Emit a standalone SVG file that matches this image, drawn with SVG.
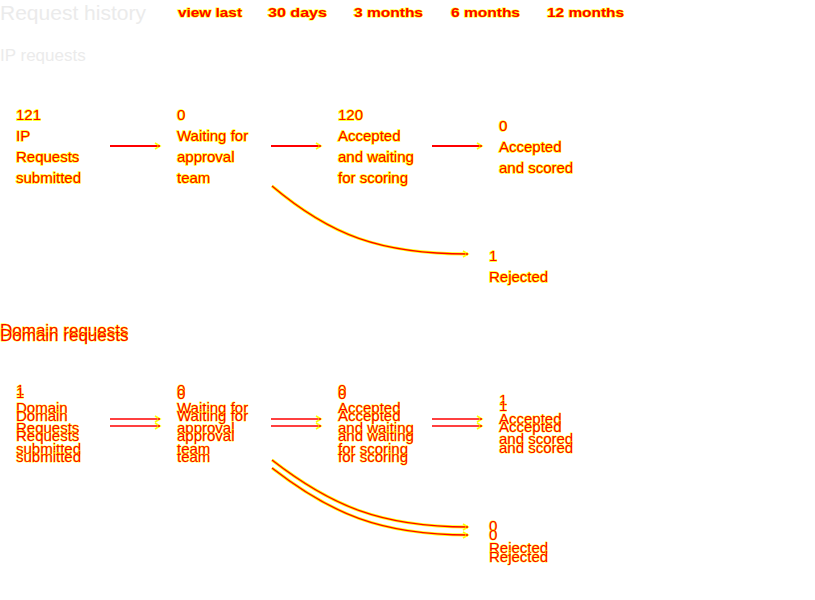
<svg xmlns="http://www.w3.org/2000/svg" width="815" height="600" viewBox="0 0 815 600">
<style>
.t{font-family:"Liberation Sans",Arial,sans-serif;font-size:15px;fill:#ff0000;stroke:#ffff00;stroke-width:1.4;paint-order:stroke}
.d{font-family:"Liberation Sans",Arial,sans-serif;font-size:15px;fill:#ff0000;stroke:#ffff00;stroke-width:0.8;paint-order:stroke}
.tab{font-family:"Liberation Sans",Arial,sans-serif;font-size:12px;font-weight:bold;fill:#ff0000;stroke:#ffff00;stroke-width:1.2;paint-order:stroke}
.h1{font-family:"Liberation Sans",Arial,sans-serif;font-size:21px;fill:#ebebeb}
.h2{font-family:"Liberation Sans",Arial,sans-serif;font-size:17px;fill:#ebebeb}
.h3{font-family:"Liberation Sans",Arial,sans-serif;font-size:17px;fill:#ff0000;stroke:#ffff00;stroke-width:0.8;paint-order:stroke}
.ln{stroke:#ff0000;stroke-width:2;fill:none}
.lnd{stroke:#ff0000;stroke-width:1.5;fill:none}
.cy{stroke:#ffff00;stroke-width:3;fill:none}
.cr{stroke:#ff0000;stroke-width:1.3;fill:none}
</style>
<defs>
<marker id="ah" markerWidth="8" markerHeight="8" refX="6" refY="4" orient="auto" markerUnits="userSpaceOnUse">
<path d="M1,1 L6,4 L1,7" fill="none" stroke="#ffff00" stroke-width="1.6"/>
<circle cx="5" cy="4" r="1" fill="#ff0000"/>
</marker>
</defs>
<g id="header">
<text class="h1" x="0" y="20">Request history</text>
<text class="tab" x="178" y="17" textLength="64" lengthAdjust="spacingAndGlyphs">view last</text>
<text class="tab" x="268" y="17" textLength="59" lengthAdjust="spacingAndGlyphs">30 days</text>
<text class="tab" x="354" y="17" textLength="69" lengthAdjust="spacingAndGlyphs">3 months</text>
<text class="tab" x="451" y="17" textLength="69" lengthAdjust="spacingAndGlyphs">6 months</text>
<text class="tab" x="547" y="17" textLength="77" lengthAdjust="spacingAndGlyphs">12 months</text>
<text class="h2" x="0" y="61">IP requests</text>
</g>
<g id="connectors">
<line class="ln" x1="110" y1="146" x2="160" y2="146" marker-end="url(#ah)"/>
<line class="ln" x1="271" y1="146" x2="321" y2="146" marker-end="url(#ah)"/>
<line class="ln" x1="432" y1="146" x2="482" y2="146" marker-end="url(#ah)"/>
<path class="cy" d="M272,186 C330,235 380,254 468,254"/>
<path class="cr" d="M272,186 C330,235 380,254 468,254" marker-end="url(#ah)"/>
<line class="lnd" x1="110" y1="419" x2="160" y2="419" marker-end="url(#ah)"/>
<line class="lnd" x1="110" y1="426" x2="160" y2="426" marker-end="url(#ah)"/>
<line class="lnd" x1="271" y1="419" x2="321" y2="419" marker-end="url(#ah)"/>
<line class="lnd" x1="271" y1="426" x2="321" y2="426" marker-end="url(#ah)"/>
<line class="lnd" x1="432" y1="419" x2="482" y2="419" marker-end="url(#ah)"/>
<line class="lnd" x1="432" y1="426" x2="482" y2="426" marker-end="url(#ah)"/>
<path class="cy" stroke-width="2.2" d="M272,460 C330,505 380,527 468,527"/>
<path class="cr" stroke-width="0.8" d="M272,460 C330,505 380,527 468,527" marker-end="url(#ah)"/>
<path class="cy" stroke-width="2.2" d="M272,468 C330,513 380,535 468,535"/>
<path class="cr" stroke-width="0.8" d="M272,468 C330,513 380,535 468,535" marker-end="url(#ah)"/>
</g>
<g id="ip-submitted">
<text class="t" x="16" y="120">121</text>
<text class="t" x="16" y="141">IP</text>
<text class="t" x="16" y="162">Requests</text>
<text class="t" x="16" y="183">submitted</text>
</g>
<g id="ip-waiting">
<text class="t" x="177" y="120">0</text>
<text class="t" x="177" y="141">Waiting for</text>
<text class="t" x="177" y="162">approval</text>
<text class="t" x="177" y="183">team</text>
</g>
<g id="ip-accepted-waiting">
<text class="t" x="338" y="120">120</text>
<text class="t" x="338" y="141">Accepted</text>
<text class="t" x="338" y="162">and waiting</text>
<text class="t" x="338" y="183">for scoring</text>
</g>
<g id="ip-accepted-scored">
<text class="t" x="499" y="131">0</text>
<text class="t" x="499" y="152">Accepted</text>
<text class="t" x="499" y="173">and scored</text>
</g>
<g id="ip-rejected">
<text class="t" x="489" y="261">1</text>
<text class="t" x="489" y="282">Rejected</text>
</g>
<g id="domain-header">
<text class="h3" x="0" y="336">Domain requests</text>
<text class="h3" x="0" y="341">Domain requests</text>
</g>
<g id="domain-submitted">
<text class="d" x="16" y="395">1</text>
<text class="d" x="16" y="398">1</text>
<text class="d" x="16" y="413">Domain</text>
<text class="d" x="16" y="421">Domain</text>
<text class="d" x="16" y="433">Requests</text>
<text class="d" x="16" y="441">Requests</text>
<text class="d" x="16" y="454">submitted</text>
<text class="d" x="16" y="462">submitted</text>
</g>
<g id="domain-waiting">
<text class="d" x="177" y="395">0</text>
<text class="d" x="177" y="399">0</text>
<text class="d" x="177" y="413">Waiting for</text>
<text class="d" x="177" y="421">Waiting for</text>
<text class="d" x="177" y="433">approval</text>
<text class="d" x="177" y="441">approval</text>
<text class="d" x="177" y="454">team</text>
<text class="d" x="177" y="462">team</text>
</g>
<g id="domain-accepted-waiting">
<text class="d" x="338" y="395">0</text>
<text class="d" x="338" y="399">0</text>
<text class="d" x="338" y="413">Accepted</text>
<text class="d" x="338" y="421">Accepted</text>
<text class="d" x="338" y="433">and waiting</text>
<text class="d" x="338" y="441">and waiting</text>
<text class="d" x="338" y="454">for scoring</text>
<text class="d" x="338" y="462">for scoring</text>
</g>
<g id="domain-accepted-scored">
<text class="d" x="499" y="405">1</text>
<text class="d" x="499" y="411">1</text>
<text class="d" x="499" y="424">Accepted</text>
<text class="d" x="499" y="432">Accepted</text>
<text class="d" x="499" y="444">and scored</text>
<text class="d" x="499" y="453">and scored</text>
</g>
<g id="domain-rejected">
<text class="d" x="489" y="531">0</text>
<text class="d" x="489" y="540">0</text>
<text class="d" x="489" y="553">Rejected</text>
<text class="d" x="489" y="562">Rejected</text>
</g>
</svg>
